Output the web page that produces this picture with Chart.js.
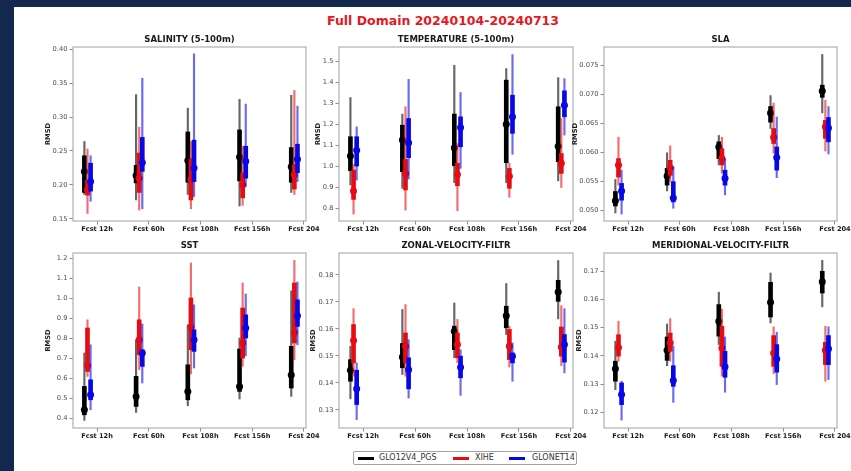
<!DOCTYPE html>
<html>
<head>
<meta charset="utf-8">
<script src="https://cdn.jsdelivr.net/npm/chart.js@4.4.1/dist/chart.umd.min.js"></script>
<style>
  body { margin: 0; width: 851px; height: 471px; overflow: hidden; position: relative; background: #13284f; font-family: "DejaVu Sans", sans-serif; }
  #sheet { position: absolute; left: 14px; top: 7px; width: 837px; height: 464px; background: #fff; }
  canvas { position: absolute; }
  #title { position: absolute; left: 243px; width: 400px; top: 13px; text-align: center; font: bold 12.5px "DejaVu Sans"; color: #e3191f; line-height: 16px; }
  #legend { position: absolute; left: 353px; top: 451px; width: 222px; height: 12px; border: 1px solid #a0a0a8; border-radius: 2px; background: #fff; }
  #legend .sw { position: absolute; top: 5px; width: 16px; height: 2.5px; }
  #legend .lb { position: absolute; top: 0; font: 8px "DejaVu Sans"; color: #333; line-height: 12px; }
</style>
</head>
<body>
<div id="sheet"></div>
<div id="title">Full Domain 20240104-20240713</div>
<div id="legend"></div>
<script>
// categories and series
const categories = ['Fcst 12h', 'Fcst 60h', 'Fcst 108h', 'Fcst 156h', 'Fcst 204'];
const seriesNames = ['GLO12V4_PGS', 'XIHE', 'GLONET14'];

// each row : [whisker low, q1, median, q3, whisker high]
const salGLO = [[0.186, 0.189, 0.220, 0.243, 0.264], [0.178, 0.203, 0.214, 0.229, 0.333], [0.186, 0.204, 0.236, 0.278, 0.313], [0.169, 0.206, 0.241, 0.281, 0.326], [0.189, 0.204, 0.227, 0.255, 0.332]];
const salXIHE = [[0.158, 0.185, 0.193, 0.207, 0.253], [0.163, 0.189, 0.210, 0.247, 0.285], [0.165, 0.178, 0.208, 0.238, 0.264], [0.170, 0.181, 0.200, 0.218, 0.257], [0.186, 0.194, 0.215, 0.230, 0.339]];
const salGLONET = [[0.176, 0.191, 0.205, 0.232, 0.243], [0.165, 0.220, 0.233, 0.270, 0.357], [0.183, 0.205, 0.225, 0.266, 0.393], [0.198, 0.210, 0.235, 0.257, 0.319], [0.205, 0.218, 0.238, 0.260, 0.316]];

const tempGLO = [[0.910, 0.978, 1.048, 1.140, 1.327], [0.894, 0.973, 1.124, 1.195, 1.248], [0.921, 1.002, 1.087, 1.248, 1.481], [0.921, 1.016, 1.200, 1.410, 1.465], [0.930, 1.021, 1.095, 1.283, 1.422]];
const tempXIHE = [[0.771, 0.841, 0.881, 0.981, 1.008], [0.790, 0.886, 0.965, 1.032, 1.283], [0.787, 0.906, 0.960, 1.013, 1.108], [0.851, 0.894, 0.952, 0.989, 1.013], [0.898, 0.965, 1.013, 1.060, 1.227]];
const tempGLONET = [[0.933, 1.000, 1.076, 1.140, 1.187], [0.938, 1.040, 1.111, 1.227, 1.414], [0.989, 1.092, 1.184, 1.235, 1.351], [1.056, 1.156, 1.235, 1.338, 1.532], [1.148, 1.235, 1.290, 1.359, 1.417]];

const slaGLO = [[0.0495, 0.0507, 0.0516, 0.0532, 0.0553], [0.0533, 0.0543, 0.0559, 0.0572, 0.0599], [0.0578, 0.0589, 0.0609, 0.0618, 0.0629], [0.0641, 0.0652, 0.0668, 0.0679, 0.0698], [0.0668, 0.0695, 0.0706, 0.0716, 0.0769]];
const slaXIHE = [[0.0543, 0.0557, 0.0578, 0.0589, 0.0626], [0.0549, 0.0560, 0.0573, 0.0586, 0.0611], [0.0564, 0.0578, 0.0589, 0.0606, 0.0626], [0.0598, 0.0615, 0.0626, 0.0641, 0.0685], [0.0602, 0.0624, 0.0644, 0.0655, 0.0690]];
const slaGLONET = [[0.0493, 0.0517, 0.0533, 0.0546, 0.0569], [0.0503, 0.0514, 0.0521, 0.0549, 0.0575], [0.0526, 0.0543, 0.0555, 0.0569, 0.0589], [0.0556, 0.0569, 0.0591, 0.0609, 0.0661], [0.0597, 0.0618, 0.0642, 0.0660, 0.0679]];

const sstGLO = [[0.390, 0.418, 0.443, 0.560, 0.727], [0.430, 0.460, 0.510, 0.610, 0.793], [0.463, 0.493, 0.535, 0.668, 0.868], [0.497, 0.535, 0.560, 0.747, 0.802], [0.510, 0.552, 0.617, 0.760, 1.038]];
const sstXIHE = [[0.610, 0.635, 0.665, 0.852, 0.893], [0.643, 0.718, 0.793, 0.893, 1.057], [0.623, 0.743, 0.857, 1.002, 1.177], [0.660, 0.702, 0.777, 0.952, 1.077], [0.693, 0.777, 0.830, 1.077, 1.190]];
const sstGLONET = [[0.443, 0.493, 0.518, 0.593, 0.768], [0.577, 0.660, 0.727, 0.743, 0.872], [0.652, 0.735, 0.793, 0.843, 0.968], [0.713, 0.802, 0.852, 0.918, 1.022], [0.768, 0.860, 0.913, 0.993, 1.082]];

const zonGLO = [[0.1341, 0.1406, 0.1447, 0.1486, 0.1536], [0.1431, 0.1456, 0.1496, 0.1546, 0.1672], [0.1493, 0.1523, 0.1591, 0.1610, 0.1696], [0.1579, 0.1604, 0.1649, 0.1684, 0.1768], [0.1637, 0.1702, 0.1737, 0.1780, 0.1853]];
const zonXIHE = [[0.1425, 0.1474, 0.1557, 0.1616, 0.1675], [0.1425, 0.1474, 0.1536, 0.1585, 0.1690], [0.1474, 0.1493, 0.1542, 0.1585, 0.1635], [0.1459, 0.1486, 0.1536, 0.1598, 0.1610], [0.1464, 0.1499, 0.1533, 0.1607, 0.1686]];
const zonGLONET = [[0.1264, 0.1320, 0.1378, 0.1447, 0.1474], [0.1344, 0.1378, 0.1449, 0.1493, 0.1560], [0.1354, 0.1419, 0.1458, 0.1499, 0.1523], [0.1406, 0.1474, 0.1499, 0.1511, 0.1548], [0.1437, 0.1477, 0.1542, 0.1579, 0.1675]];

const merGLO = [[0.1280, 0.1310, 0.1354, 0.1381, 0.1452], [0.1365, 0.1384, 0.1420, 0.1467, 0.1513], [0.1440, 0.1470, 0.1523, 0.1582, 0.1626], [0.1517, 0.1538, 0.1590, 0.1661, 0.1694], [0.1574, 0.1623, 0.1663, 0.1700, 0.1739]];
const merXIHE = [[0.1381, 0.1399, 0.1430, 0.1475, 0.1523], [0.1381, 0.1416, 0.1446, 0.1481, 0.1532], [0.1328, 0.1363, 0.1428, 0.1505, 0.1566], [0.1337, 0.1363, 0.1410, 0.1472, 0.1503], [0.1310, 0.1369, 0.1420, 0.1448, 0.1505]];
const merGLONET = [[0.1172, 0.1227, 0.1263, 0.1304, 0.1310], [0.1235, 0.1292, 0.1313, 0.1365, 0.1434], [0.1271, 0.1324, 0.1361, 0.1416, 0.1467], [0.1298, 0.1342, 0.1389, 0.1440, 0.1484], [0.1316, 0.1369, 0.1425, 0.1472, 0.1503]];

// y tick labels
const salTicks = [0.15, 0.20, 0.25, 0.30, 0.35, 0.40];
const tempTicks = [0.8, 0.9, 1.0, 1.1, 1.2, 1.3, 1.4, 1.5];
const slaTicks = [0.050, 0.055, 0.060, 0.065, 0.070, 0.075];
const sstTicks = [0.4, 0.5, 0.6, 0.7, 0.8, 0.9, 1.0, 1.1, 1.2];
const zonTicks = [0.13, 0.14, 0.15, 0.16, 0.17, 0.18];
const merTicks = [0.12, 0.13, 0.14, 0.15, 0.16, 0.17];

// style
const seriesColors = ['0,0,0', '232,12,18', '8,8,230'];
const seriesShift = [-0.245, -0.185, -0.125];
const FONT = '"DejaVu Sans", sans-serif';

// box = [left, top, width, height] de la zone de tracé
const panels = [
    { title: 'SALINITY (5-100m)', box: [73, 47, 233, 174], y: [0.147, 0.403], ticks: salTicks, dec: 2, data: [salGLO, salXIHE, salGLONET], rmsd: 25 },
    { title: 'TEMPERATURE (5-100m)', box: [339, 47, 234, 174], y: [0.738, 1.568], ticks: tempTicks, dec: 1, data: [tempGLO, tempXIHE, tempGLONET], rmsd: 21 },
    { title: 'SLA', box: [604, 47, 233, 174], y: [0.0481, 0.0782], ticks: slaTicks, dec: 3, data: [slaGLO, slaXIHE, slaGLONET], rmsd: 29 },
    { title: 'SST', box: [73, 253, 233, 175], y: [0.352, 1.227], ticks: sstTicks, dec: 1, data: [sstGLO, sstXIHE, sstGLONET], rmsd: 25 },
    { title: 'ZONAL-VELOCITY-FILTR', box: [339, 253, 234, 175], y: [0.1233, 0.1881], ticks: zonTicks, dec: 2, data: [zonGLO, zonXIHE, zonGLONET], rmsd: 26 },
    { title: 'MERIDIONAL-VELOCITY-FILTR', box: [604, 253, 233, 175], y: [0.1144, 0.1765], ticks: merTicks, dec: 2, data: [merGLO, merXIHE, merGLONET], rmsd: 25 },
];

// cadre gris autour de chaque sous-graphe
const framePlugin = {
    id: 'frame',
    afterDatasetsDraw(chart) {
        const a = chart.chartArea;
        const ctx = chart.ctx;
        ctx.save();
        ctx.strokeStyle = '#b0b0b0';
        ctx.lineWidth = 1.2;
        ctx.strokeRect(a.left, a.top, a.right - a.left, a.bottom - a.top);
        ctx.restore();
    }
};

function buildDatasets(data) {
    const sets = [];
    data.forEach((rows, s) => {
        const col = seriesColors[s];
        const base = 10 - s * 3;
        const xs = rows.map((r, i) => i + seriesShift[s]);
        // trait fin : min - max
        sets.push({
            type: 'bar', label: seriesNames[s],
            data: rows.map((r, i) => ({ x: xs[i], y: [r[0], r[4]] })),
            backgroundColor: `rgba(${col},0.6)`, borderWidth: 0,
            barThickness: 1.5, grouped: false, order: base
        });
        // trait épais : q1 - q3
        sets.push({
            type: 'bar', label: seriesNames[s],
            data: rows.map((r, i) => ({ x: xs[i], y: [r[1], r[3]] })),
            backgroundColor: `rgb(${col})`, borderWidth: 0,
            barThickness: 4, grouped: false, order: base - 1
        });
        // médiane
        sets.push({
            type: 'scatter', label: seriesNames[s],
            data: rows.map((r, i) => ({ x: xs[i], y: r[2] })),
            backgroundColor: `rgb(${col})`, borderWidth: 0,
            pointRadius: 3.5, pointHoverRadius: 3.5, order: base - 2
        });
    });
    return sets;
}

panels.forEach((p) => {
    const [px, py, pw, ph] = p.box;
    const canvas = document.createElement('canvas');
    canvas.width = pw + 65;
    canvas.height = ph + 35;
    canvas.style.left = (px - 45) + 'px';
    canvas.style.top = (py - 15) + 'px';
    document.body.appendChild(canvas);

    const gridOpts = { display: true, drawOnChartArea: false, drawTicks: true, tickLength: 3.5, tickColor: '#8a8a8a', tickWidth: 1, offset: false };

    new Chart(canvas.getContext('2d'), {
        type: 'bar',
        data: { datasets: buildDatasets(p.data) },
        options: {
            animation: false,
            responsive: false,
            devicePixelRatio: 1,
            layout: { padding: { left: 0, top: 0, bottom: 0, right: 20 } },
            plugins: {
                legend: { display: false },
                tooltip: { enabled: false },
                title: {
                    display: true, text: p.title, fullSize: false, color: '#1a1a1a',
                    font: { family: FONT, size: 8.5, weight: 'bold', lineHeight: '10px' },
                    padding: { top: 3, bottom: 2 }
                }
            },
            scales: {
                x: {
                    type: 'linear', min: -0.465, max: 4.04, offset: false,
                    afterFit: (s) => { s.height = 20; },
                    afterBuildTicks: (s) => { s.ticks = categories.map((c, i) => ({ value: i })); },
                    ticks: {
                        callback: (v) => categories[v], color: '#1a1a1a', padding: 1,
                        maxRotation: 0, autoSkip: false,
                        font: { family: FONT, size: 6.6, weight: 'bold' }
                    },
                    grid: gridOpts,
                    border: { display: false }
                },
                y: {
                    type: 'linear', min: p.y[0], max: p.y[1], beginAtZero: false,
                    afterFit: (s) => { s.width = 45; },
                    afterBuildTicks: (s) => { s.ticks = p.ticks.map((v) => ({ value: v })); },
                    ticks: {
                        callback: (v) => v.toFixed(p.dec), color: '#4a4a4a', padding: 2,
                        font: { family: FONT, size: 6.7 }
                    },
                    grid: gridOpts,
                    border: { display: false },
                    title: {
                        display: true, text: 'RMSD', color: '#1a1a1a',
                        font: { family: FONT, size: 6.7, weight: 'bold', lineHeight: '8px' },
                        padding: { top: 41 - p.rmsd, bottom: 0 }
                    }
                }
            }
        },
        plugins: [framePlugin]
    });
});

// légende en bas
const legend = document.getElementById('legend');
const legendPos = [[4, 25], [99, 121], [155, 178]];
seriesNames.forEach((name, s) => {
    const sw = document.createElement('span');
    sw.className = 'sw';
    sw.style.left = legendPos[s][0] + 'px';
    sw.style.background = `rgb(${seriesColors[s]})`;
    legend.appendChild(sw);
    const lb = document.createElement('span');
    lb.className = 'lb';
    lb.style.left = legendPos[s][1] + 'px';
    lb.textContent = name;
    legend.appendChild(lb);
});
</script>
</body>
</html>
